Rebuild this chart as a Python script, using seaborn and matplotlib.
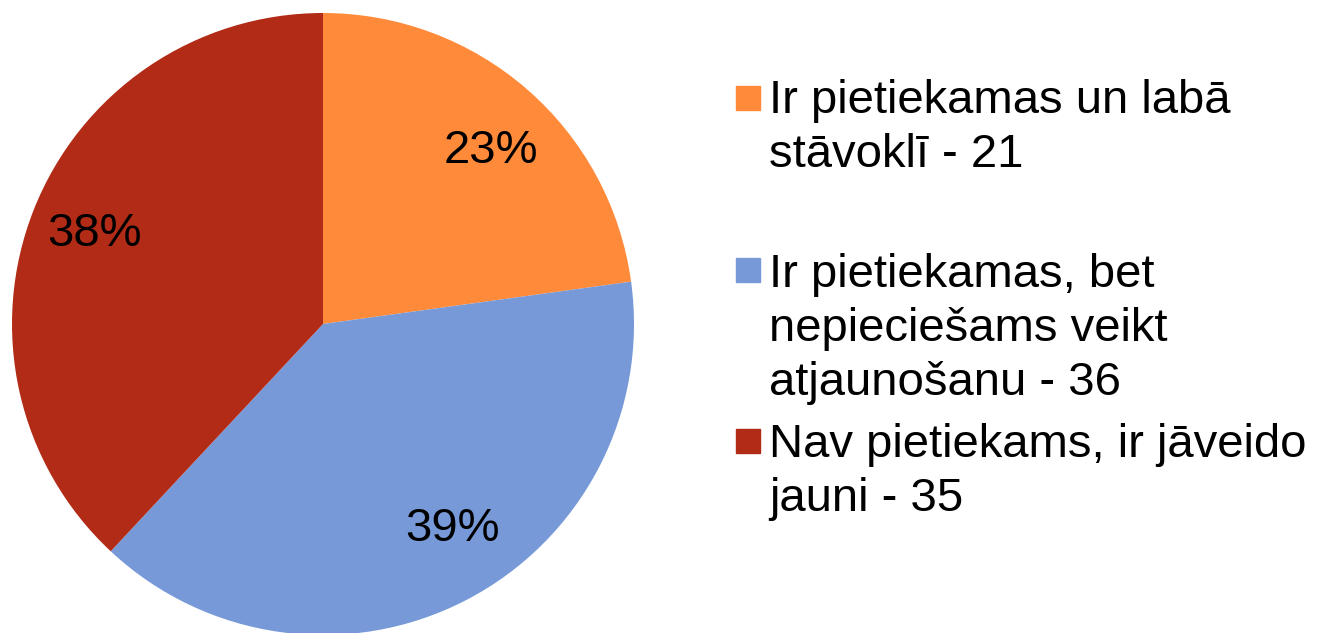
import numpy as np
import seaborn as sns
from matplotlib import pyplot as plt
from matplotlib.patches import Rectangle

# dati
labels = ['Ir pietiekamas un labā\nstāvoklī - 21',
          'Ir pietiekamas, bet\nnepieciešams veikt\natjaunošanu - 36',
          'Nav pietiekams, ir jāveido\njauni - 35']
counts = [21, 36, 35]
colors = ['#FF8A3A', '#7799D8', '#B22B17']


def main():
    sns.set_theme(style='white')
    plt.rcParams['font.family'] = ['Liberation Sans', 'DejaVu Sans']
    plt.rcParams['text.color'] = 'black'

    fig = plt.figure(figsize=(13.22, 6.33), dpi=100)
    ax = fig.add_axes([12 / 1322, -2 / 633, 622 / 1322, 622 / 633])

    wedges, texts, autotexts = ax.pie(
        counts, colors=colors, startangle=90, counterclock=False,
        autopct=lambda p: f'{p:.0f}%', pctdistance=0.78,
        wedgeprops=dict(linewidth=0), textprops=dict(fontsize=34, color='black'))
    ax.set_xlim(-1, 1)
    ax.set_ylim(-1, 1)
    ax.set_aspect('equal')

    # Excel "best fit" nobīde etiķetēm
    shifts = [(-3, 0.775), (5, 0.78), (0, 0.79)]
    for w, t, (da, r) in zip(wedges, autotexts, shifts):
        ang = np.deg2rad((w.theta1 + w.theta2) / 2 + da)
        t.set_position((r * np.cos(ang), r * np.sin(ang)))

    # leģenda ar nevienādām atstarpēm kā oriģinālā
    # (va='baseline' pie vairākām rindām līdzina pēdējās rindas bāzes līniju)
    sq_tops = [86, 258, 429]
    last_baselines = [167, 395, 511]
    for lab, col, top, base in zip(labels, colors, sq_tops, last_baselines):
        fig.patches.append(Rectangle((736 / 1322, 1 - (top + 24) / 633), 24 / 1322, 24 / 633,
                                     transform=fig.transFigure, color=col))
        fig.text(769 / 1322, 1 - base / 633, lab, fontsize=34, va='baseline', ha='left',
                 linespacing=1.30, color='black')

    fig.savefig('out.png', dpi=100)


if __name__ == '__main__':
    main()
